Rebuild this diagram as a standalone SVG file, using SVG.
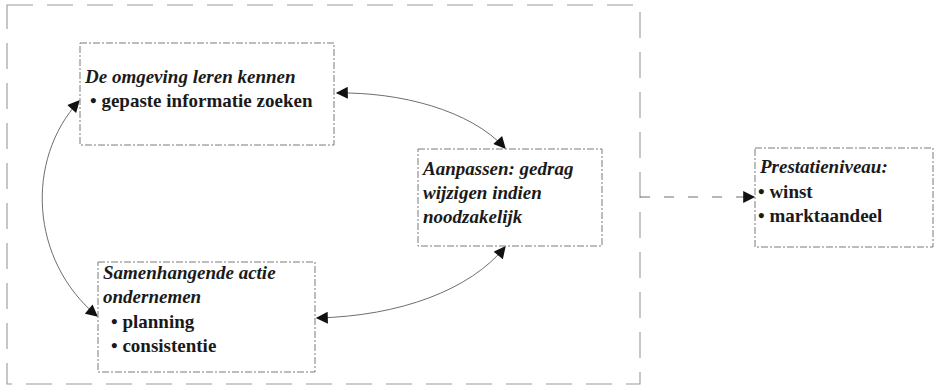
<svg xmlns="http://www.w3.org/2000/svg" width="934" height="392" viewBox="0 0 934 392">
  <style>
    .frame { fill: none; stroke: #9a9a9a; stroke-width: 1.1; stroke-dasharray: 26 14; }
    .box { fill: #ffffff; stroke: #7a7a7a; stroke-width: 1; stroke-dasharray: 7 2 2 2; }
    .link { fill: none; stroke: #6e6e6e; stroke-width: 1; }
    .dashed { stroke-dasharray: 10 14; }
    text { font-family: "Liberation Serif", "Times New Roman", serif; font-size: 19px; font-weight: bold; fill: #1a1a1a; }
    .title { font-style: italic; }
  </style>
  <defs>
    <marker id="head" viewBox="0 0 10 10" refX="9" refY="5" markerWidth="13" markerHeight="12" markerUnits="userSpaceOnUse" orient="auto-start-reverse">
      <path d="M0,0 L10,5 L0,10 Z" fill="#111111"/>
    </marker>
  </defs>
  <rect width="934" height="392" fill="#ffffff"/>

  <!-- surrounding frame of the learning cycle -->
  <rect class="frame" x="7" y="5" width="633" height="379"/>

  <g id="connectors">
    <path class="link" d="M337,93 C400,92 470,110 505,148" marker-start="url(#head)" marker-end="url(#head)"/>
    <path class="link" d="M505,247 C470,290 400,316 317,318" marker-start="url(#head)" marker-end="url(#head)"/>
    <path class="link" d="M79,101 C25,160 30,260 97,316" marker-start="url(#head)" marker-end="url(#head)"/>
    <path class="link dashed" d="M640,197 L754,197" marker-end="url(#head)"/>
  </g>

  <g id="omgeving">
    <rect class="box" x="80" y="43" width="254" height="102"/>
    <text class="title" x="85" y="83">De omgeving leren kennen</text>
    <text x="90" y="107">• gepaste informatie zoeken</text>
  </g>

  <g id="aanpassen">
    <rect class="box" x="418" y="149" width="184" height="97"/>
    <text class="title" x="423" y="175">Aanpassen: gedrag</text>
    <text class="title" x="423" y="199">wijzigen indien</text>
    <text class="title" x="423" y="223">noodzakelijk</text>
  </g>

  <g id="actie">
    <rect class="box" x="98" y="262" width="217" height="110"/>
    <text class="title" x="103" y="279">Samenhangende actie</text>
    <text class="title" x="103" y="303">ondernemen</text>
    <text x="111" y="328">• planning</text>
    <text x="111" y="352">• consistentie</text>
  </g>

  <g id="prestatie">
    <rect class="box" x="755" y="148" width="178" height="99"/>
    <text class="title" x="760" y="173">Prestatieniveau:</text>
    <text x="758" y="198">• winst</text>
    <text x="758" y="222">• marktaandeel</text>
  </g>
</svg>
